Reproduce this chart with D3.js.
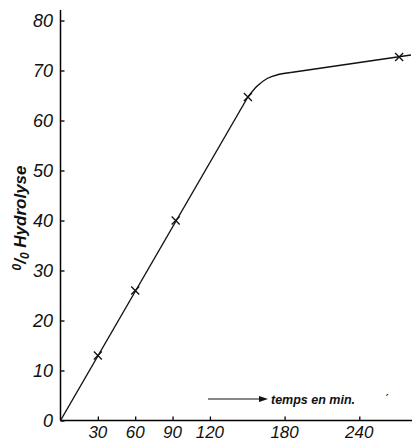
<!DOCTYPE html>
<html>
<head>
<meta charset="utf-8">
<script src="https://cdn.jsdelivr.net/npm/d3@7"></script>
<style>
  body { margin: 0; background: #fff; }
  text { font-family: "Liberation Sans", Arial, sans-serif; font-style: italic; fill: #111; }
</style>
</head>
<body>
<div id="chart"></div>
<script>
// measured points (time in min, % hydrolysis)
var times = [30, 60, 92.5, 150.5, 272];
var hydro = [13, 26, 40, 64.7, 72.7];

// drawn curve: straight rise, rounded knee, then straight again
var lineStraight = [[0, 0], [150.5, 64.7]];
var lineKnee = [[150.5, 64.7], [158, 66.9], [166, 68.4], [175, 69.2], [185, 69.6]];
var lineTail = [[185, 69.6], [281.5, 73.1]];

var xTicks = [30, 60, 90, 120, 180, 240];
var yTicks = [0, 10, 20, 30, 40, 50, 60, 70, 80];

var width = 412, height = 442;

var svg = d3.select("#chart").append("svg")
    .attr("width", width)
    .attr("height", height);

var xScale = d3.scaleLinear().domain([0, 240]).range([60.5, 359.3]);
var yScale = d3.scaleLinear().domain([0, 80]).range([420.5, 20.5]);

// axes, ticks pointing inward
var xAxis = svg.append("g")
    .attr("transform", "translate(0,420.5)")
    .call(d3.axisTop(xScale).tickValues(xTicks).tickSize(4).tickFormat(""));
xAxis.select(".domain").attr("d", "M60.5,0H412").attr("stroke-width", 1.5);
xAxis.selectAll(".tick line").attr("stroke-width", 1.3);

var yAxis = svg.append("g")
    .attr("transform", "translate(60.5,0)")
    .call(d3.axisRight(yScale).tickValues(yTicks).tickSize(4).tickFormat(""));
yAxis.select(".domain").attr("d", "M0,10V420.5").attr("stroke-width", 1.5);
yAxis.selectAll(".tick line").attr("stroke-width", 1.3);

// tick labels
svg.selectAll(".xlab").data(xTicks).enter().append("text")
    .attr("x", function(d) { return xScale(d); })
    .attr("y", 438)
    .attr("text-anchor", "middle")
    .style("font-size", "17px")
    .text(function(d) { return d; });

svg.append("text")
    .attr("x", 384).attr("y", 404)
    .style("font-size", "13px")
    .text("ˊ");

svg.selectAll(".ylab").data(yTicks).enter().append("text")
    .attr("x", 53)
    .attr("y", function(d) { return yScale(d) + 6; })
    .attr("text-anchor", "end")
    .style("font-size", "18px")
    .text(function(d) { return d; });

// y title
var yt = svg.append("text")
    .attr("transform", "translate(26,218) rotate(-90)")
    .attr("text-anchor", "middle")
    .style("font-size", "17px")
    .style("font-weight", "bold");
yt.append("tspan").attr("dy", -5).style("font-size", "12px").text("0");
yt.append("tspan").attr("dy", 5).text("/");
yt.append("tspan").attr("dy", 3).style("font-size", "12px").text("0");
yt.append("tspan").attr("dy", -3).text(" Hydrolyse");

// time arrow + label
svg.append("line")
    .attr("x1", 208).attr("x2", 262)
    .attr("y1", 399).attr("y2", 399)
    .attr("stroke", "#111").attr("stroke-width", 1.2);
svg.append("path")
    .attr("d", "M268,399 L259,396 L259,402 Z")
    .attr("fill", "#111");
svg.append("text")
    .attr("x", 271).attr("y", 404)
    .style("font-size", "12.5px")
    .style("font-weight", "bold")
    .text("temps en min.");

// curve
var line = d3.line()
    .x(function(d) { return xScale(d[0]); })
    .y(function(d) { return yScale(d[1]); });

svg.append("path")
    .attr("d", line(lineStraight))
    .attr("fill", "none").attr("stroke", "#111").attr("stroke-width", 1.4);

svg.append("path")
    .attr("d", line(lineTail))
    .attr("fill", "none").attr("stroke", "#111").attr("stroke-width", 1.4);

svg.append("path")
    .attr("d", line.curve(d3.curveMonotoneX)(lineKnee))
    .attr("fill", "none").attr("stroke", "#111").attr("stroke-width", 1.4);

// crosses
var pts = times.map(function(t, i) { return [t, hydro[i]]; });
var s = 4;
svg.selectAll(".cross").data(pts).enter().append("path")
    .attr("d", function(d) {
        var cx = xScale(d[0]), cy = yScale(d[1]);
        return "M" + (cx - s) + "," + (cy - s) + "L" + (cx + s) + "," + (cy + s) +
               "M" + (cx - s) + "," + (cy + s) + "L" + (cx + s) + "," + (cy - s);
    })
    .attr("stroke", "#111").attr("stroke-width", 1.3).attr("fill", "none");
</script>
</body>
</html>
